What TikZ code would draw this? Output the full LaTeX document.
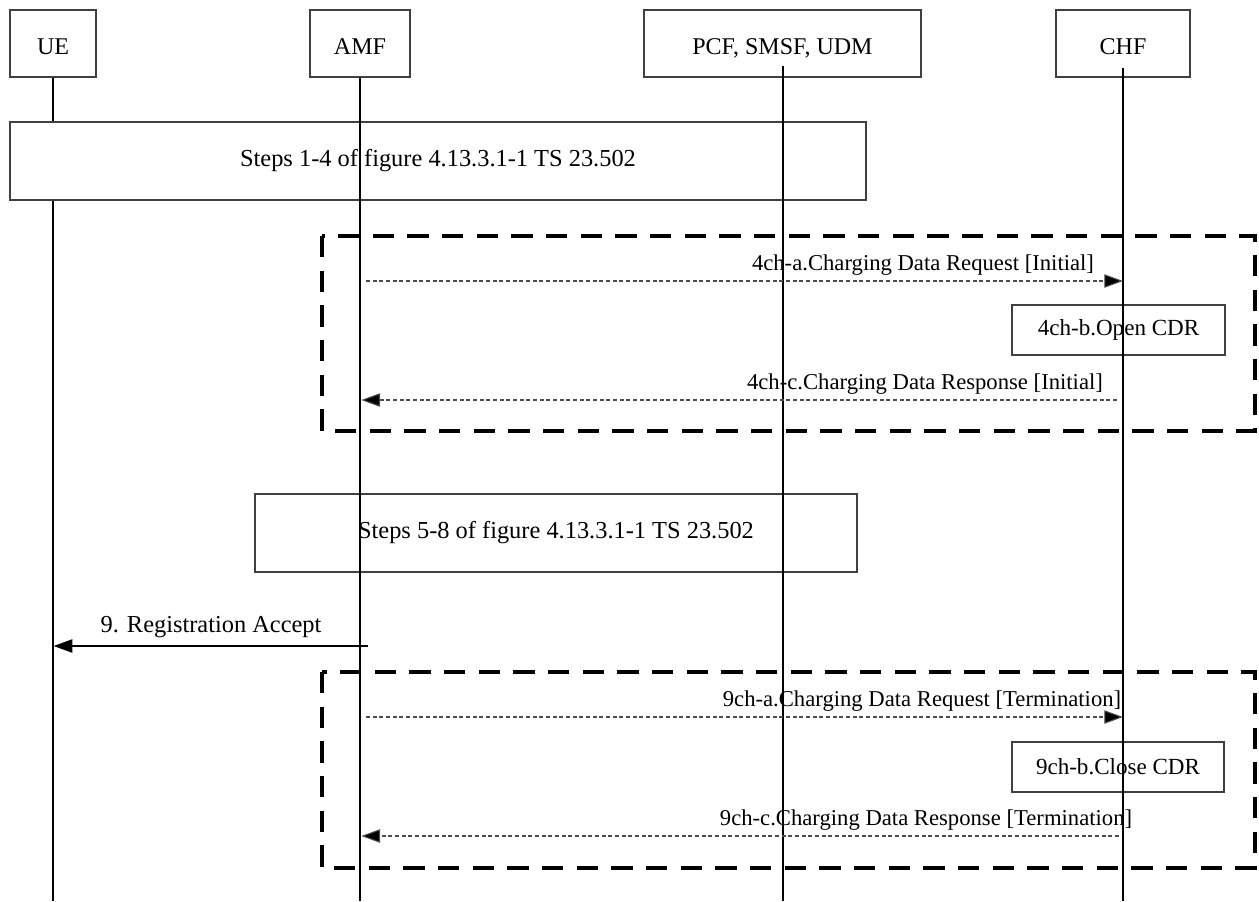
\documentclass[tikz,border=0pt]{standalone}
\usepackage{fontspec}
\setmainfont{Liberation Serif}
\usetikzlibrary{arrows.meta}
\begin{document}
\begin{tikzpicture}[x=0.75pt,y=-0.75pt,
  box/.style={draw=black!75, line width=0.9pt, fill=white, inner sep=0pt, minimum height=50.25pt, text height=16pt, text depth=0pt, font=\fontsize{18}{21}\selectfont},
  stepbox/.style={draw=black!75, line width=0.9pt, inner sep=0pt, minimum height=58.5pt, font=\fontsize{18.3}{21}\selectfont},
  cdrbox/.style={draw=black!75, line width=0.9pt, inner sep=0pt, minimum height=37.5pt, font=\fontsize{17.3}{20}\selectfont},
  life/.style={line width=1.4pt},
  grp/.style={line width=2.6pt, dash pattern=on 16pt off 10pt},
  msg/.style={draw=black!70, line width=0.8pt, dash pattern=on 3pt off 2pt, -{Triangle[length=14pt,width=10pt,fill=black]}},
  solidmsg/.style={draw=black, line width=0.9pt, -{Triangle[length=14pt,width=10pt]}},
  lbl/.style={font=\fontsize{17}{20}\selectfont, inner sep=1pt, anchor=south}]
\useasboundingbox (0,0) rectangle (1259,901);

% group frames
\draw[grp] (322,236) rectangle (1255,431);
\draw[grp] (322,672) rectangle (1255,868);

% head boxes
\node[box, minimum width=64.5pt] (UE) at (53,43.5) {UE};
\node[box, minimum width=75pt] (AMF) at (360,43.5) {AMF};
\node[box, minimum width=207.75pt] (PCF) at (782.5,43.5) {PCF, SMSF, UDM};
\node[box, minimum width=100.5pt] (CHF) at (1123,43.5) {CHF};

% step boxes
\node[stepbox, minimum width=642pt] (S14) at (438,161) {Steps 1-4 of figure 4.13.3.1-1 TS 23.502};
\node[cdrbox, minimum width=159.75pt] (OCDR) at (1118.5,330) {4ch-b.Open CDR};
\node[stepbox, minimum width=451.5pt] (S58) at (556,533) {Steps 5-8 of figure 4.13.3.1-1 TS 23.502};
\node[cdrbox, minimum width=159pt] (CCDR) at (1118,767) {9ch-b.Close CDR};

% lifeline ends
\coordinate (UEend) at (53,901);
\coordinate (AMFend) at (360,901);
\coordinate (PCFend) at (783,901);
\coordinate (CHFend) at (1123,901);

% lifelines
\draw[life] (UE.south) -- (UE.south |- S14.north);
\draw[life] (UE.south |- S14.south) -- (UEend);
\draw[life] (AMF.south) -- (AMFend);
\draw[life] ([yshift=9pt]PCF.south -| PCFend) -- (PCFend);
\draw[life] ([yshift=7pt]CHF.south) -- (CHFend);

% message rows
\coordinate (m4a) at (0,281);
\coordinate (m4c) at (0,400);
\coordinate (m9) at (0,646);
\coordinate (m9a) at (0,717);
\coordinate (m9c) at (0,836);

\draw[msg] ([xshift=4.5pt]AMFend |- m4a) -- (CHFend |- m4a);
\node[lbl] (L4a) at (923,277) {4ch-a.Charging Data Request [Initial]};

\draw[msg] ([xshift=-4.5pt]CHFend |- m4c) -- ([xshift=1pt]AMFend |- m4c);
\node[lbl] (L4c) at (925,396) {4ch-c.Charging Data Response [Initial]};

\draw[solidmsg] ([xshift=6pt]AMFend |- m9) -- ([xshift=0.5pt]UEend |- m9);
\node[lbl, font=\fontsize{18.3}{21}\selectfont] (L9) at (211,639) {9. Registration Accept};

\draw[msg] ([xshift=4.5pt]AMFend |- m9a) -- (CHFend |- m9a);
\node[lbl] (L9a) at (922,713) {9ch-a.Charging Data Request [Termination]};

\draw[msg] ([xshift=-3pt]CHFend |- m9c) -- ([xshift=1pt]AMFend |- m9c);
\node[lbl] (L9c) at (926,832) {9ch-c.Charging Data Response [Termination]};
\end{tikzpicture}
\end{document}
